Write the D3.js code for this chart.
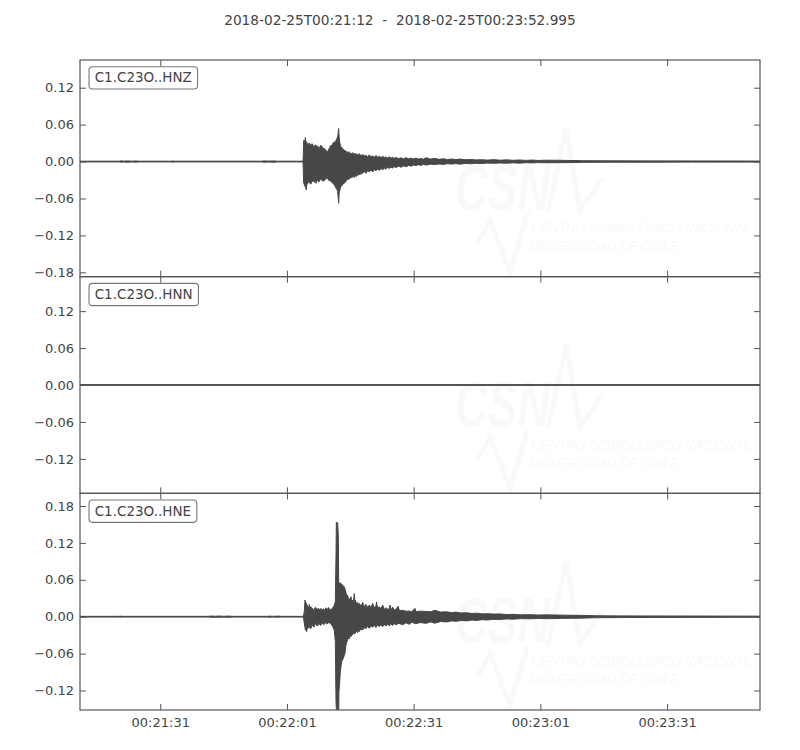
<!DOCTYPE html>
<html>
<head>
<meta charset="utf-8">
<script src="https://cdn.jsdelivr.net/npm/d3@7"></script>
<style>
  html, body { margin: 0; padding: 0; background: #ffffff; }
  svg { display: block; font-family: "DejaVu Sans", sans-serif; }
</style>
</head>
<body>
<svg id="chart" width="800" height="750"></svg>
<script>
// ---------------- data ----------------
const titleText = "2018-02-25T00:21:12  -  2018-02-25T00:23:52.995";
const startISO = "2018-02-25T00:21:12Z";
const endISO = "2018-02-25T00:23:52.995Z";
const channels = ["C1.C23O..HNZ", "C1.C23O..HNN", "C1.C23O..HNE"];
const xTickLabels = ["00:21:31", "00:22:01", "00:22:31", "00:23:01", "00:23:31"];
const yTickValues = [-0.18, -0.12, -0.06, 0.00, 0.06, 0.12, 0.18];
const yDomains = [[-0.187, 0.165], [-0.176, 0.176], [-0.1517, 0.2006]];
const watermarkLines = ["CSN", "CENTRO SISMOLÓGICO NACIONAL", "UNIVERSIDAD DE CHILE"];

// envelope rows: [seconds after start, max, min]
const hnzEnvelope = [
  [0, 0.0006, -0.0006], [9.4, 0.0006, -0.0006], [9.8, 0.0012, -0.0011], [10.4, 0.0007, -0.0007],
  [11.2, 0.0011, -0.0012], [12.2, 0.0007, -0.0007], [13.3, 0.0010, -0.0010], [14.0, 0.0006, -0.0006],
  [21.6, 0.0006, -0.0006], [21.9, 0.0011, -0.0011], [22.3, 0.0006, -0.0006], [43.0, 0.0006, -0.0006],
  [43.5, 0.0011, -0.0011], [44.5, 0.0008, -0.0008], [46.0, 0.0010, -0.0010], [46.8, 0.0006, -0.0006],
  [52.8, 0.0006, -0.0006],
  [52.87, 0.012, -0.015], [52.95, 0.033, -0.035], [53.03, 0.0348, -0.0353], [53.2, 0.030, -0.040],
  [53.35, 0.0391, -0.0407], [53.5, 0.031, -0.044], [53.58, 0.030, -0.0461], [53.66, 0.0321, -0.039],
  [53.82, 0.027, -0.036], [53.98, 0.0294, -0.0353], [54.13, 0.026, -0.033], [54.29, 0.0303, -0.0326],
  [54.5, 0.027, -0.036], [54.69, 0.0267, -0.0366], [54.9, 0.029, -0.031], [55.08, 0.0281, -0.0326],
  [55.3, 0.024, -0.030], [55.48, 0.024, -0.0337], [55.68, 0.027, -0.031], [55.87, 0.0267, -0.0353],
  [56.07, 0.023, -0.030], [56.27, 0.0254, -0.0299], [56.46, 0.022, -0.033], [56.66, 0.0213, -0.0326],
  [56.86, 0.025, -0.028], [57.06, 0.0267, -0.0288], [57.25, 0.022, -0.031], [57.45, 0.024, -0.0299],
  [57.65, 0.020, -0.032], [57.84, 0.0213, -0.031], [58.04, 0.019, -0.028], [58.24, 0.0186, -0.0288],
  [58.44, 0.016, -0.026], [58.63, 0.0159, -0.0272], [58.83, 0.019, -0.030], [59.03, 0.0213, -0.0315],
  [59.22, 0.024, -0.030], [59.42, 0.0267, -0.0326], [59.62, 0.025, -0.034], [59.82, 0.0294, -0.0353],
  [60.02, 0.031, -0.036], [60.21, 0.0321, -0.038], [60.41, 0.030, -0.040], [60.61, 0.0348, -0.0434],
  [60.8, 0.037, -0.045], [61.0, 0.040, -0.0488], [61.12, 0.046, -0.058], [61.24, 0.0537, -0.0677],
  [61.36, 0.040, -0.052], [61.47, 0.0321, -0.0488], [61.63, 0.027, -0.043], [61.79, 0.024, -0.0407],
  [61.98, 0.022, -0.039], [62.18, 0.0213, -0.038], [62.38, 0.020, -0.035], [62.58, 0.0186, -0.0353],
  [62.78, 0.017, -0.033], [62.97, 0.0172, -0.0326], [63.17, 0.014, -0.028], [63.37, 0.016, -0.030],
  [63.56, 0.013, -0.027], [63.76, 0.0159, -0.0288], [63.96, 0.012, -0.025], [64.16, 0.014, -0.027],
  [64.36, 0.011, -0.024], [64.55, 0.0145, -0.0258], [64.75, 0.013, -0.022], [64.95, 0.0132, -0.026],
  [65.15, 0.010, -0.021], [65.34, 0.0132, -0.0245], [65.54, 0.011, -0.020], [65.74, 0.012, -0.023],
  [65.94, 0.009, -0.019], [66.13, 0.0132, -0.0218], [66.33, 0.010, -0.018], [66.53, 0.011, -0.021],
  [66.72, 0.009, -0.017], [66.92, 0.0118, -0.0191], [67.3, 0.009, -0.016], [67.7, 0.010, -0.019],
  [68.1, 0.008, -0.015], [68.5, 0.0105, -0.0165], [68.9, 0.008, -0.014], [69.3, 0.009, -0.017],
  [69.7, 0.007, -0.013], [70.08, 0.0099, -0.0151], [70.5, 0.007, -0.012], [70.9, 0.0085, -0.0145],
  [71.3, 0.0065, -0.011], [71.65, 0.0089, -0.0138], [72.0, 0.006, -0.010], [72.4, 0.0075, -0.0125],
  [72.8, 0.0058, -0.0095], [73.23, 0.0078, -0.0111], [73.6, 0.0055, -0.009], [74.0, 0.0072, -0.0105],
  [74.4, 0.0052, -0.0082], [74.81, 0.0065, -0.0097], [75.4, 0.0048, -0.0075], [76.0, 0.006, -0.0092],
  [76.6, 0.0046, -0.007], [77.18, 0.0062, -0.0084], [77.8, 0.0044, -0.0062], [78.4, 0.0055, -0.0075],
  [79.0, 0.0042, -0.0055], [79.55, 0.0057, -0.0065], [80.1, 0.004, -0.005], [80.7, 0.005, -0.0062],
  [81.3, 0.0038, -0.0045], [81.91, 0.0062, -0.0057], [83.0, 0.004, -0.0042], [84.0, 0.0052, -0.0048],
  [85.0, 0.0036, -0.0038], [86.0, 0.0045, -0.0046], [87.0, 0.0034, -0.0035], [88.0, 0.0042, -0.004],
  [89.0, 0.0032, -0.0033], [90.0, 0.004, -0.0042], [91.2, 0.003, -0.003], [92.5, 0.0035, -0.0036],
  [93.7, 0.0027, -0.0028], [95.0, 0.003, -0.0032], [96.5, 0.0024, -0.0025], [98.0, 0.0031, -0.0028],
  [99.5, 0.0022, -0.0023], [101.0, 0.0028, -0.0027], [102.5, 0.002, -0.0021], [104.0, 0.0026, -0.0026],
  [105.5, 0.0019, -0.0019], [107.0, 0.0024, -0.0022], [108.5, 0.0018, -0.0017], [110.0, 0.0022, -0.002],
  [113.0, 0.0021, -0.0018], [116.0, 0.0018, -0.0017], [119.0, 0.0014, -0.0013], [125.0, 0.0012, -0.0011],
  [135.0, 0.0011, -0.001], [145.0, 0.001, -0.0009], [155.0, 0.0009, -0.0009], [160.995, 0.0008, -0.0008]
];

const hnnEnvelope = [
  [0, 0.0006, -0.0006], [160.995, 0.0006, -0.0006]
];

const hneEnvelope = [
  [0, 0.0006, -0.0006], [9.2, 0.0006, -0.0006], [9.5, 0.0010, -0.0009], [9.9, 0.0006, -0.0006],
  [30.5, 0.0006, -0.0006], [31.0, 0.0011, -0.0010], [32.0, 0.0008, -0.0009], [33.0, 0.0011, -0.0010],
  [34.0, 0.0007, -0.0007], [35.3, 0.0010, -0.0010], [36.0, 0.0006, -0.0006], [44.3, 0.0006, -0.0006],
  [44.8, 0.0010, -0.0010], [45.5, 0.0006, -0.0006], [47.0, 0.0010, -0.0009], [47.6, 0.0006, -0.0006],
  [52.9, 0.0006, -0.0006],
  [53.1, 0.008, -0.010], [53.27, 0.027, -0.018], [53.35, 0.024, -0.0216], [53.5, 0.0232, -0.022],
  [53.66, 0.020, -0.0243], [53.74, 0.0189, -0.021], [53.98, 0.0162, -0.0189], [54.13, 0.013, -0.015],
  [54.29, 0.020, -0.0162], [54.5, 0.014, -0.019], [54.69, 0.0162, -0.0189], [54.9, 0.012, -0.014],
  [55.08, 0.0135, -0.0135], [55.3, 0.010, -0.017], [55.48, 0.0119, -0.0162], [55.68, 0.015, -0.011],
  [55.87, 0.0146, -0.0124], [56.07, 0.010, -0.015], [56.27, 0.0124, -0.0146], [56.46, 0.014, -0.012],
  [56.66, 0.0108, -0.0108], [56.86, 0.012, -0.014], [57.06, 0.0135, -0.0135], [57.25, 0.010, -0.011],
  [57.45, 0.0119, -0.0108], [57.65, 0.013, -0.013], [57.84, 0.0108, -0.0124], [58.04, 0.012, -0.010],
  [58.24, 0.0146, -0.0092], [58.44, 0.011, -0.012], [58.63, 0.0124, -0.0108], [58.83, 0.015, -0.010],
  [59.03, 0.0135, -0.0092], [59.22, 0.011, -0.011], [59.42, 0.0108, -0.0124], [59.62, 0.013, -0.014],
  [59.82, 0.0146, -0.0162], [60.02, 0.016, -0.019], [60.21, 0.0189, -0.0216], [60.45, 0.0243, -0.0405],
  [60.61, 0.10, -0.138], [60.69, 0.154, -0.150], [60.84, 0.150, -0.17], [61.0, 0.153, -0.17],
  [61.16, 0.132, -0.17], [61.24, 0.0567, -0.16], [61.31, 0.056, -0.1216], [61.55, 0.054, -0.10],
  [61.63, 0.055, -0.0891], [61.95, 0.053, -0.0729], [62.18, 0.0513, -0.070], [62.34, 0.050, -0.0675],
  [62.58, 0.0486, -0.063], [62.74, 0.045, -0.0594], [62.97, 0.0394, -0.0459], [63.17, 0.033, -0.041],
  [63.37, 0.0351, -0.0378], [63.56, 0.028, -0.034], [63.76, 0.0297, -0.0362], [63.96, 0.026, -0.031],
  [64.16, 0.0324, -0.0324], [64.36, 0.024, -0.028], [64.55, 0.027, -0.0297], [64.75, 0.025, -0.026],
  [64.95, 0.0378, -0.028], [65.06, 0.026, -0.025], [65.18, 0.027, -0.027], [65.46, 0.021, -0.023],
  [65.74, 0.0232, -0.026], [65.94, 0.019, -0.022], [66.13, 0.0216, -0.0243], [66.33, 0.018, -0.020],
  [66.53, 0.020, -0.022], [66.72, 0.017, -0.019], [66.92, 0.0232, -0.0216], [67.3, 0.016, -0.018],
  [67.71, 0.020, -0.019], [68.1, 0.015, -0.016], [68.5, 0.0189, -0.0189], [68.9, 0.015, -0.015],
  [69.29, 0.0216, -0.017], [69.7, 0.014, -0.014], [70.08, 0.0178, -0.0178], [70.2, 0.024, -0.015],
  [70.45, 0.014, -0.014], [70.87, 0.0162, -0.016], [71.25, 0.013, -0.013], [71.65, 0.0189, -0.0162],
  [72.05, 0.012, -0.013], [72.44, 0.0146, -0.015], [72.84, 0.012, -0.012], [73.23, 0.0135, -0.0151],
  [73.4, 0.019, -0.012], [73.62, 0.011, -0.012], [74.02, 0.0157, -0.014], [74.4, 0.011, -0.011],
  [74.81, 0.0119, -0.0135], [75.3, 0.017, -0.011], [75.6, 0.010, -0.011], [76.39, 0.0103, -0.013],
  [77.2, 0.009, -0.010], [77.97, 0.0092, -0.0124], [78.5, 0.008, -0.009], [79.3, 0.0135, -0.011],
  [79.55, 0.0081, -0.0113], [80.5, 0.009, -0.0095], [81.91, 0.0085, -0.0108], [83.0, 0.008, -0.0085],
  [84.0, 0.0105, -0.0105], [85.4, 0.0075, -0.0078], [86.8, 0.008, -0.0085], [88.0, 0.0065, -0.0068],
  [89.0, 0.0075, -0.0075], [90.2, 0.006, -0.0062], [91.5, 0.0065, -0.0068], [92.8, 0.0052, -0.0055],
  [94.0, 0.0058, -0.006], [95.2, 0.0046, -0.0048], [96.3, 0.005, -0.0054], [98.0, 0.0042, -0.0043],
  [99.5, 0.0045, -0.0045], [101.0, 0.0035, -0.0036], [102.5, 0.0038, -0.004], [104.5, 0.003, -0.0031],
  [106.5, 0.0033, -0.0035], [108.5, 0.0027, -0.0028], [110.5, 0.003, -0.0032], [114.5, 0.0025, -0.0027],
  [118.4, 0.0022, -0.0024], [122.0, 0.0016, -0.0017], [128.0, 0.0013, -0.0014], [135.0, 0.0012, -0.0012],
  [145.0, 0.0011, -0.0011], [160.995, 0.0009, -0.0009]
];

const envelopes = [hnzEnvelope, hnnEnvelope, hneEnvelope];

// ---------------- layout ----------------
const plotLeft = 80, plotRight = 760, plotTop = 60, plotBottom = 710;
const panelH = (plotBottom - plotTop) / channels.length;
const textColor = "#444444";
const axisColor = "#555555";
const traceColor = "#474747";
const markColor = "#f9f9f9";

const svg = d3.select("#chart");
const t0 = new Date(startISO);
const toDate = s => new Date(t0.getTime() + s * 1000);

const x = d3.scaleUtc().domain([t0, new Date(endISO)]).range([plotLeft, plotRight]);
const xTicks = xTickLabels.map(l => new Date("2018-02-25T" + l + "Z"));
const xFmt = d3.utcFormat("%H:%M:%S");

svg.append("text")
  .attr("x", 400).attr("y", 25)
  .attr("text-anchor", "middle")
  .attr("font-size", "13.7px")
  .attr("fill", textColor)
  .style("white-space", "pre")
  .text(titleText);

const defs = svg.append("defs");

channels.forEach((name, i) => {
  const py = plotTop + i * panelH;
  const y = d3.scaleLinear().domain(yDomains[i]).range([py + panelH, py]);
  const ticks = yTickValues.filter(v => v >= yDomains[i][0] && v <= yDomains[i][1]);
  const g = svg.append("g");

  defs.append("clipPath").attr("id", "clip" + i)
    .append("rect").attr("x", plotLeft).attr("y", py).attr("width", plotRight - plotLeft).attr("height", panelH);

  // very faint watermark
  const wm = g.append("g").attr("fill", markColor);
  wm.append("text").attr("x", 455).attr("y", py + 150)
    .attr("font-family", "Liberation Sans Narrow, Liberation Sans, sans-serif")
    .attr("font-weight", "bold").attr("font-style", "italic")
    .attr("font-size", "64px").attr("textLength", 95).attr("lengthAdjust", "spacingAndGlyphs")
    .text(watermarkLines[0]);
  wm.append("text").attr("x", 531).attr("y", py + 173)
    .attr("font-family", "Liberation Sans Narrow, Liberation Sans, sans-serif")
    .attr("font-style", "italic").attr("font-size", "15px")
    .attr("textLength", 220).attr("lengthAdjust", "spacingAndGlyphs")
    .text(watermarkLines[1]);
  wm.append("text").attr("x", 529).attr("y", py + 191)
    .attr("font-family", "Liberation Sans Narrow, Liberation Sans, sans-serif")
    .attr("font-style", "italic").attr("font-size", "15px")
    .attr("textLength", 150).attr("lengthAdjust", "spacingAndGlyphs")
    .text(watermarkLines[2]);
  wm.append("path")
    .attr("clip-path", "url(#clip" + i + ")")
    .attr("d", `M478,${py+182} L485,${py+170} L490,${py+160} L510,${py+212} L528,${py+152} M548,${py+152} L566,${py+68} L580,${py+150} L603,${py+118}`)
    .attr("fill", "none").attr("stroke", markColor).attr("stroke-width", 5);

  // waveform envelope
  const area = d3.area()
    .x(d => x(toDate(d[0])))
    .y0(d => y(d[2]))
    .y1(d => y(d[1]));
  g.append("path")
    .attr("clip-path", "url(#clip" + i + ")")
    .attr("d", area(envelopes[i]))
    .attr("fill", traceColor)
    .attr("stroke", traceColor)
    .attr("stroke-width", 1)
    .attr("stroke-linejoin", "round");

  // axes (inward ticks on all four sides)
  const styleAxis = sel => {
    sel.select(".domain").remove();
    sel.selectAll(".tick line").attr("stroke", axisColor);
    sel.selectAll(".tick text").attr("fill", textColor).attr("font-size", "13px")
      .attr("font-family", "DejaVu Sans, sans-serif");
  };
  g.append("g").attr("transform", `translate(${plotLeft},0)`)
    .call(d3.axisLeft(y).tickValues(ticks).tickSize(-6).tickPadding(6).tickFormat(d3.format(".2f")))
    .call(styleAxis);
  g.append("g").attr("transform", `translate(${plotRight},0)`)
    .call(d3.axisRight(y).tickValues(ticks).tickSize(-6).tickFormat(""))
    .call(styleAxis);
  g.append("g").attr("transform", `translate(0,${py})`)
    .call(d3.axisTop(x).tickValues(xTicks).tickSize(-6).tickFormat(""))
    .call(styleAxis);
  g.append("g").attr("transform", `translate(0,${py + panelH})`)
    .call(d3.axisBottom(x).tickValues(xTicks).tickSize(-6).tickPadding(8)
      .tickFormat(i === channels.length - 1 ? xFmt : ""))
    .call(styleAxis);

  // frame
  g.append("rect").attr("x", plotLeft).attr("y", py).attr("width", plotRight - plotLeft).attr("height", panelH)
    .attr("fill", "none").attr("stroke", axisColor).attr("stroke-width", 1.2);

  // channel label box
  const lbl = g.append("g");
  const txt = lbl.append("text").attr("x", plotLeft + 14.7).attr("y", py + 22.3)
    .attr("font-size", "13.5px").attr("fill", textColor).text(name);
  const bb = txt.node().getBBox();
  lbl.insert("rect", "text")
    .attr("x", plotLeft + 9).attr("y", py + 6.7)
    .attr("width", bb.width + 11.5).attr("height", 22.3)
    .attr("rx", 3.5).attr("ry", 3.5)
    .attr("fill", "#ffffff").attr("stroke", "#777777").attr("stroke-width", 1.1);
});
</script>
</body>
</html>
